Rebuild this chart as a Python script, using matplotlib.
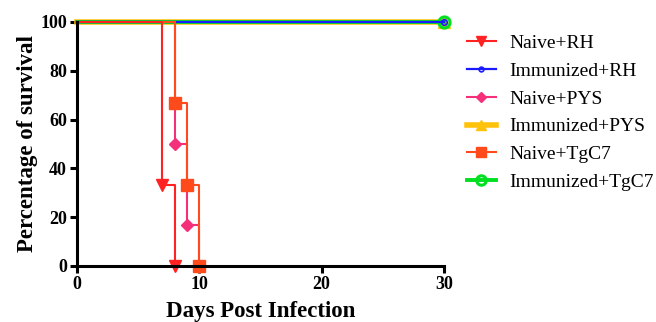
import matplotlib
matplotlib.use("Agg")
import matplotlib.pyplot as plt

# survival data (days, percent)
naive_rh_days = [0, 7, 8]
naive_rh_surv = [100, 33.3, 0]
naive_pys_days = [0, 8, 9, 10]
naive_pys_surv = [100, 50, 16.7, 0]
naive_tgc7_days = [0, 8, 9, 10]
naive_tgc7_surv = [100, 66.7, 33.3, 0]
immun_days = [0, 30]
immun_surv = [100, 100]

labels = ["Naive+RH", "Immunized+RH", "Naive+PYS", "Immunized+PYS", "Naive+TgC7", "Immunized+TgC7"]
xticks = [0, 10, 20, 30]
yticks = [0, 20, 40, 60, 80, 100]

plt.rcParams['font.family'] = ['Liberation Serif', 'DejaVu Serif']

fig = plt.figure(figsize=(6.56, 3.22), dpi=100)
ax = fig.add_axes([0.117, 0.174, 0.56, 0.758])

h = {}
h[3], = ax.step(immun_days, immun_surv, where="post", color="#FFC20A", lw=4,
                marker="^", ms=9, markevery=[1], label=labels[3])
h[5], = ax.step(immun_days, immun_surv, where="post", color="#00E020", lw=2.8,
                marker="o", ms=8, mfc="none", mew=2.2, markevery=[1], label=labels[5])
h[1], = ax.step(immun_days, immun_surv, where="post", color="#1A1AFF", lw=1.6,
                marker="o", ms=4, mfc="none", mew=1.2, markevery=[1], label=labels[1])
h[2], = ax.step(naive_pys_days, naive_pys_surv, where="post", color="#F5307A", lw=1.5,
                marker="D", ms=6, markevery=[1, 2, 3], label=labels[2])
h[4], = ax.step(naive_tgc7_days, naive_tgc7_surv, where="post", color="#FF4A1C", lw=1.5,
                marker="s", ms=9, markevery=[1, 2, 3], label=labels[4])
h[0], = ax.step(naive_rh_days, naive_rh_surv, where="post", color="#FF2222", lw=1.5,
                marker="v", ms=9, markevery=[1, 2], label=labels[0])

ax.set_xlim(0, 30)
ax.set_ylim(0, 100)
ax.set_xticks(xticks)
ax.set_yticks(yticks)
for s in ["top", "right"]:
    ax.spines[s].set_visible(False)
for s in ["left", "bottom"]:
    ax.spines[s].set_linewidth(2.2)
ax.tick_params(direction="out", length=5, width=2.2, labelsize=13, pad=2)
for t in ax.get_xticklabels() + ax.get_yticklabels():
    t.set_fontweight("bold")
ax.set_xlabel("Days Post Infection", fontsize=16.5, fontweight="bold", labelpad=6)
ax.set_ylabel("Percentage of survival", fontsize=16.5, fontweight="bold", labelpad=2)
for line in h.values():
    line.set_clip_on(False)

ax.legend([h[i] for i in range(6)], labels, loc="upper left", bbox_to_anchor=(1.04, 0.98),
          frameon=False, fontsize=14, handlelength=1.5, labelspacing=0.52,
          handletextpad=0.7, markerscale=0.85, borderaxespad=0)

fig.savefig("out.png", dpi=100)
